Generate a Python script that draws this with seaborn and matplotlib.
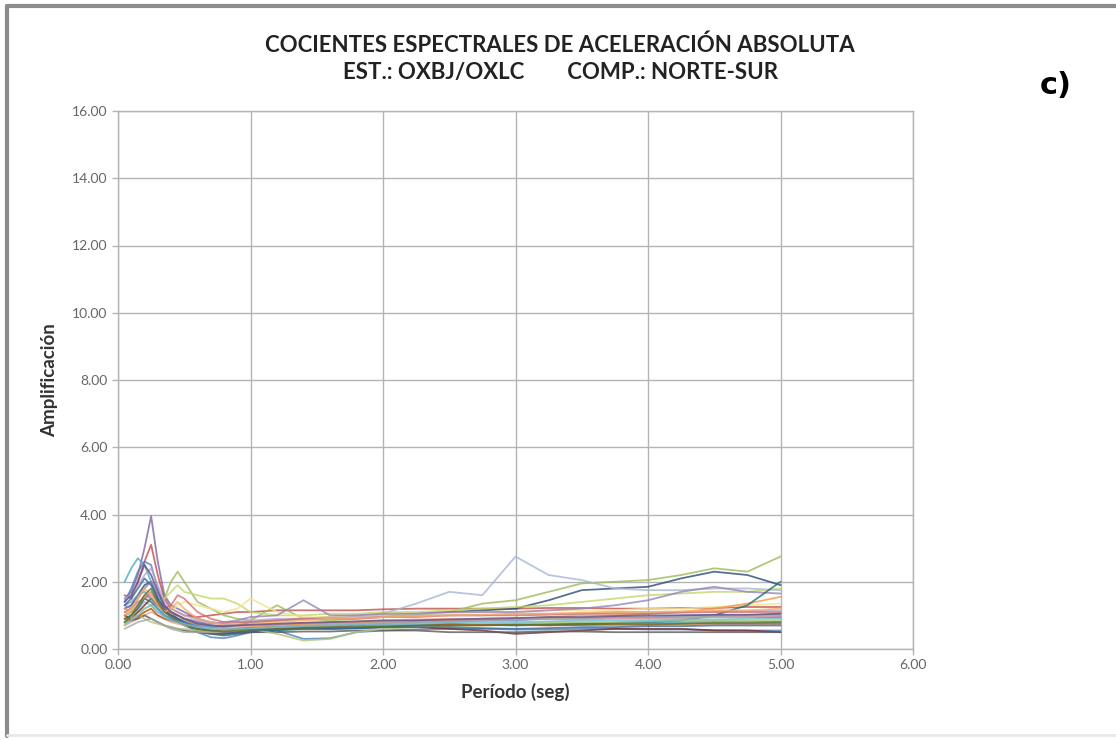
import matplotlib
matplotlib.use('Agg')
import matplotlib.pyplot as plt
import numpy as np
import pandas as pd
import seaborn as sns

# period grid (s) shared by every record
periodo = [0.05, 0.1, 0.15, 0.2, 0.25, 0.3, 0.35, 0.4, 0.45, 0.5, 0.6, 0.7, 0.8, 0.9, 1.0, 1.2,
           1.4, 1.6, 1.8, 2.0, 2.25, 2.5, 2.75, 3.0, 3.25, 3.5, 3.75, 4.0, 4.25, 4.5, 4.75, 5.0]

# spectral ratios OXBJ/OXLC, one list per event
s01 = [1.5, 1.7, 2.2, 3.0, 3.95, 2.6, 1.6, 1.3, 1.2, 1.1, 0.9, 0.8, 0.75, 0.7, 0.7, 0.72, 0.75, 0.78, 0.8, 0.82, 0.85, 0.85, 0.86, 0.88, 0.9, 0.9, 0.92, 0.92, 0.93, 0.95, 0.95, 0.95]
s02 = [1.6, 1.5, 2.0, 2.6, 3.1, 2.2, 1.5, 1.2, 1.1, 1.0, 0.95, 1.0, 1.05, 1.1, 1.1, 1.15, 1.15, 1.15, 1.15, 1.18, 1.2, 1.2, 1.2, 1.2, 1.22, 1.22, 1.2, 1.2, 1.22, 1.22, 1.25, 1.25]
s03 = [2.0, 2.4, 2.7, 2.5, 2.0, 1.5, 1.2, 1.0, 0.9, 0.85, 0.7, 0.65, 0.6, 0.6, 0.6, 0.6, 0.62, 0.65, 0.68, 0.7, 0.72, 0.7, 0.72, 0.75, 0.75, 0.78, 0.78, 0.8, 0.8, 0.82, 0.82, 0.8]
s04 = [1.4, 1.8, 2.3, 2.6, 2.5, 1.8, 1.3, 1.1, 0.9, 0.75, 0.5, 0.35, 0.32, 0.4, 0.5, 0.55, 0.3, 0.32, 0.5, 0.55, 0.58, 0.6, 0.6, 0.58, 0.58, 0.6, 0.6, 0.58, 0.58, 0.56, 0.55, 0.55]
s05 = [1.0, 1.1, 1.3, 1.5, 1.6, 1.4, 1.5, 2.0, 2.3, 2.0, 1.4, 1.2, 1.0, 0.9, 0.85, 1.3, 0.9, 0.85, 0.9, 0.95, 1.0, 1.1, 1.35, 1.45, 1.7, 1.95, 2.0, 2.05, 2.2, 2.4, 2.3, 2.75]
s06 = [1.2, 1.3, 1.6, 1.9, 2.0, 1.5, 1.2, 1.1, 1.0, 0.9, 0.8, 0.7, 0.65, 0.7, 0.8, 0.85, 0.9, 0.95, 1.0, 1.0, 1.05, 1.1, 1.15, 1.2, 1.45, 1.75, 1.8, 1.85, 2.1, 2.3, 2.2, 1.9]
s07 = [1.1, 1.0, 1.2, 1.4, 1.3, 1.1, 1.0, 0.9, 0.9, 0.85, 0.75, 0.7, 0.7, 0.75, 0.8, 0.85, 0.9, 0.95, 1.0, 1.05, 1.35, 1.7, 1.6, 2.75, 2.2, 2.05, 1.8, 1.75, 1.75, 1.8, 1.8, 1.75]
s08 = [0.9, 1.0, 1.1, 1.2, 1.3, 1.4, 1.5, 1.7, 1.9, 1.7, 1.6, 1.5, 1.5, 1.35, 1.1, 1.0, 1.0, 1.05, 1.05, 1.1, 1.1, 1.15, 1.2, 1.25, 1.3, 1.4, 1.5, 1.6, 1.65, 1.7, 1.7, 1.8]
s09 = [0.8, 0.9, 1.0, 1.1, 1.2, 1.1, 1.0, 1.1, 1.3, 1.4, 1.3, 1.2, 1.1, 1.2, 1.5, 1.1, 0.95, 0.95, 1.0, 1.0, 1.05, 1.05, 1.1, 1.1, 1.15, 1.15, 1.15, 1.2, 1.2, 1.25, 1.3, 1.35]
s10 = [1.3, 1.2, 1.5, 1.8, 2.0, 1.6, 1.3, 1.1, 1.0, 0.9, 0.8, 0.75, 0.8, 0.85, 0.95, 1.0, 1.45, 1.0, 1.0, 1.05, 1.05, 1.1, 1.1, 1.1, 1.15, 1.2, 1.3, 1.45, 1.7, 1.85, 1.7, 1.65]
s11 = [1.2, 1.1, 1.3, 1.6, 1.5, 1.3, 1.2, 1.1, 1.0, 0.9, 0.7, 0.6, 0.55, 0.6, 0.65, 0.7, 0.72, 0.75, 0.78, 0.8, 0.82, 0.85, 0.9, 0.9, 0.95, 1.0, 1.0, 1.05, 1.1, 1.2, 1.35, 1.55]
s12 = [1.0, 0.9, 1.1, 1.3, 1.5, 1.3, 1.1, 1.0, 0.9, 0.8, 0.6, 0.5, 0.45, 0.5, 0.55, 0.6, 0.62, 0.6, 0.62, 0.65, 0.65, 0.6, 0.55, 0.45, 0.5, 0.55, 0.6, 0.6, 0.6, 0.55, 0.55, 0.5]
s13 = [0.9, 1.0, 1.2, 1.5, 1.4, 1.2, 1.0, 0.9, 0.8, 0.7, 0.55, 0.45, 0.4, 0.45, 0.5, 0.55, 0.6, 0.6, 0.62, 0.65, 0.7, 0.75, 0.72, 0.7, 0.72, 0.75, 0.78, 0.8, 0.85, 1.0, 1.3, 2.0]
s14 = [1.3, 1.4, 1.6, 1.7, 1.5, 1.2, 1.0, 0.9, 0.85, 0.8, 0.7, 0.65, 0.6, 0.6, 0.62, 0.65, 0.68, 0.7, 0.72, 0.75, 0.78, 0.8, 0.85, 0.85, 0.9, 0.9, 0.95, 0.95, 1.0, 1.0, 1.0, 1.05]
s15 = [0.7, 0.8, 0.9, 1.0, 1.1, 1.0, 0.9, 0.8, 0.75, 0.7, 0.65, 0.6, 0.62, 0.65, 0.7, 0.75, 0.78, 0.8, 0.82, 0.85, 0.88, 0.9, 0.9, 0.92, 0.9, 0.88, 0.9, 0.9, 0.92, 0.95, 0.95, 1.0]
s16 = [0.8, 0.85, 0.9, 1.0, 0.9, 0.8, 0.7, 0.65, 0.6, 0.55, 0.5, 0.45, 0.45, 0.48, 0.5, 0.5, 0.52, 0.52, 0.55, 0.55, 0.55, 0.5, 0.5, 0.5, 0.52, 0.52, 0.5, 0.5, 0.5, 0.5, 0.5, 0.5]
s17 = [0.7, 0.9, 1.0, 0.9, 0.8, 0.75, 0.7, 0.65, 0.6, 0.6, 0.55, 0.5, 0.5, 0.55, 0.6, 0.45, 0.25, 0.3, 0.5, 0.6, 0.65, 0.7, 0.75, 0.75, 0.8, 0.8, 0.8, 0.82, 0.85, 0.85, 0.85, 0.85]
s18 = [1.5, 1.6, 1.9, 2.2, 2.4, 1.9, 1.4, 1.2, 1.1, 1.0, 0.85, 0.8, 0.75, 0.8, 0.85, 0.9, 0.9, 0.92, 0.95, 0.95, 1.0, 1.0, 1.0, 1.05, 1.05, 1.05, 1.1, 1.1, 1.1, 1.12, 1.12, 1.15]
s19 = [1.1, 1.2, 1.4, 1.5, 1.7, 1.4, 1.2, 1.3, 1.6, 1.5, 1.1, 0.9, 0.8, 0.8, 0.8, 0.85, 0.9, 0.9, 0.9, 0.95, 0.95, 1.0, 1.0, 1.0, 1.02, 1.05, 1.05, 1.05, 1.08, 1.1, 1.1, 1.1]
s20 = [0.9, 0.85, 0.95, 1.1, 1.2, 1.0, 0.9, 0.85, 0.8, 0.75, 0.6, 0.55, 0.55, 0.6, 0.62, 0.65, 0.65, 0.68, 0.7, 0.7, 0.7, 0.72, 0.72, 0.72, 0.7, 0.72, 0.72, 0.72, 0.75, 0.75, 0.75, 0.75]
s21 = [1.3, 1.5, 1.8, 2.1, 1.9, 1.5, 1.2, 1.0, 0.9, 0.8, 0.65, 0.55, 0.5, 0.52, 0.55, 0.58, 0.6, 0.62, 0.62, 0.65, 0.65, 0.65, 0.62, 0.6, 0.62, 0.65, 0.65, 0.68, 0.68, 0.7, 0.7, 0.7]
s22 = [0.6, 0.7, 0.8, 0.85, 0.9, 0.8, 0.7, 0.6, 0.55, 0.5, 0.5, 0.5, 0.52, 0.55, 0.6, 0.65, 0.7, 0.72, 0.75, 0.78, 0.8, 0.82, 0.85, 0.88, 0.9, 0.92, 0.95, 0.95, 0.95, 0.98, 1.0, 1.0]
s23 = [1.0, 1.2, 1.5, 1.8, 1.6, 1.3, 1.1, 1.2, 1.4, 1.2, 0.9, 0.8, 0.7, 0.7, 0.75, 0.8, 0.85, 0.9, 0.92, 0.95, 0.98, 1.0, 1.02, 1.05, 1.05, 1.08, 1.1, 1.1, 1.12, 1.15, 1.15, 1.2]
s24 = [0.8, 1.0, 1.3, 1.6, 1.8, 1.4, 1.1, 0.95, 0.85, 0.75, 0.6, 0.55, 0.52, 0.55, 0.58, 0.6, 0.62, 0.65, 0.65, 0.68, 0.7, 0.7, 0.7, 0.72, 0.72, 0.72, 0.75, 0.75, 0.75, 0.78, 0.78, 0.8]
s25 = [1.4, 1.6, 2.0, 2.5, 2.2, 1.7, 1.3, 1.1, 1.0, 0.9, 0.75, 0.7, 0.68, 0.7, 0.72, 0.75, 0.78, 0.8, 0.82, 0.85, 0.85, 0.88, 0.9, 0.92, 0.95, 0.95, 0.98, 1.0, 1.0, 1.02, 1.02, 1.05]
s26 = [0.75, 0.85, 1.0, 1.2, 1.3, 1.1, 0.95, 0.85, 0.8, 0.75, 0.65, 0.6, 0.58, 0.6, 0.62, 0.65, 0.68, 0.7, 0.72, 0.72, 0.75, 0.78, 0.8, 0.8, 0.82, 0.85, 0.85, 0.85, 0.88, 0.88, 0.9, 0.9]

series = [s01, s02, s03, s04, s05, s06, s07, s08, s09, s10, s11, s12, s13,
          s14, s15, s16, s17, s18, s19, s20, s21, s22, s23, s24, s25, s26]

# excel 2010 style colours
colores = ['#8064A2', '#C0504D', '#4BACC6', '#4F81BD', '#9BBB59', '#2C4D75',
           '#A5B6D3', '#C4D66B', '#F2E38C', '#9983B5', '#F79646', '#772C2A',
           '#276A7C', '#729ACA', '#E6A5A0', '#595959', '#AFC97A', '#B7A6CC',
           '#CD7371', '#B65708', '#3A679C', '#A6A6A6', '#F9AB6B', '#5F7530',
           '#664F83', '#6FBDD1']

filas = []
for k, s in enumerate(series):
    for t, a in zip(periodo, s):
        filas.append({'T': t, 'A': a, 'ev': 'ev%02d' % (k + 1)})
df = pd.DataFrame(filas)

sns.set_style('white')
plt.rcParams['font.family'] = ['Lato', 'DejaVu Sans']

fig = plt.figure(figsize=(11.16, 7.40), dpi=100)
ax = fig.add_axes([118 / 1116, 1 - 649 / 740, (913 - 118) / 1116, (649 - 111) / 740])

sns.lineplot(data=df, x='T', y='A', hue='ev', palette=colores, linewidth=1.3,
             alpha=0.8, legend=False, ax=ax, sort=False, estimator=None)

ax.set_xlim(0, 6)
ax.set_ylim(0, 16)
ax.set_xticks(np.arange(0, 7, 1))
ax.set_yticks(np.arange(0, 17, 2))
ax.set_xticklabels(['%.2f' % v for v in np.arange(0, 7, 1)])
ax.set_yticklabels(['%.2f' % v for v in np.arange(0, 17, 2)])
ax.grid(True, color='#b4b4b4', linewidth=1.0)
ax.set_axisbelow(True)
for sp in ax.spines.values():
    sp.set_color('#b4b4b4')
    sp.set_linewidth(1.0)
ax.tick_params(axis='both', labelsize=10, colors='#b4b4b4', labelcolor='#666666',
               length=4, width=1, direction='out', bottom=True, left=True)
ax.set_xlabel('Período (seg)', fontsize=13.5, fontweight='bold', color='#333333', labelpad=8)
ax.set_ylabel('Amplificación', fontsize=13.5, fontweight='bold', color='#333333', labelpad=10)

fig.text(0.502, 1 - 45 / 740, 'COCIENTES ESPECTRALES DE ACELERACIÓN ABSOLUTA',
         ha='center', va='center', fontsize=16, fontweight='bold', color='#222222')
fig.text(0.502, 1 - 72 / 740, 'EST.: OXBJ/OXLC        COMP.: NORTE-SUR',
         ha='center', va='center', fontsize=16, fontweight='bold', color='#222222')
fig.text(1056 / 1116, 1 - 86 / 740, 'c)', ha='center', va='center', fontsize=22,
         fontweight='heavy', color='black', family=['DejaVu Sans'])

# gray frame of the original chart object
fig.add_artist(plt.Line2D([7 / 1116, 7 / 1116], [0.005, 1 - 6 / 740], color='#8c8c8c', lw=3))
fig.add_artist(plt.Line2D([7 / 1116, 1.0], [1 - 6 / 740, 1 - 6 / 740], color='#8c8c8c', lw=3))
fig.add_artist(plt.Line2D([7 / 1116, 1.0], [5 / 740, 5 / 740], color='#e8e8e8', lw=2))

fig.savefig('out.png', dpi=100)
